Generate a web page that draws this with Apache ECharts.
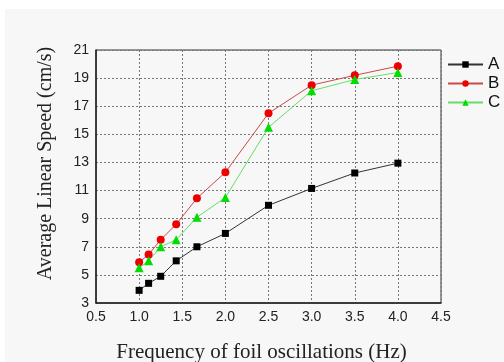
<!DOCTYPE html>
<html>
<head>
<meta charset="utf-8">
<script src="https://cdn.jsdelivr.net/npm/echarts@6/dist/echarts.min.js"></script>
<style>
  html, body { margin: 0; padding: 0; background: #fff; }
  #container { width: 504px; height: 362px; }
</style>
</head>
<body>
<div id="container"></div>
<script>
var freq = [1.0, 1.11, 1.25, 1.43, 1.67, 2.0, 2.5, 3.0, 3.5, 4.0]
var seriesA = [3.9, 4.4, 4.9, 6.0, 7.0, 7.95, 9.95, 11.15, 12.25, 12.95]
var seriesB = [5.9, 6.45, 7.5, 8.6, 10.45, 12.3, 16.5, 18.5, 19.2, 19.85]
var seriesC = [5.5, 6.0, 7.0, 7.5, 9.1, 10.5, 15.5, 18.1, 18.9, 19.4]

function pairs(ys) {
  return freq.map(function (x, i) { return [x, ys[i]] })
}

var dom = document.getElementById('container')
var myChart = echarts.init(dom)

var splitStyle = {
  show: true,
  lineStyle: { color: '#777', type: [2, 2], width: 1 }
}

var option = {
  backgroundColor: '#f7f7f7',
  animation: false,
  graphic: [{
    type: 'rect',
    shape: { x: 0, y: 0, width: 504, height: 9 },
    style: { fill: '#fff' },
    silent: true
  }, {
    type: 'rect',
    shape: { x: 0, y: 0, width: 5, height: 362 },
    style: { fill: '#fff' },
    silent: true
  }],
  grid: {
    left: 96,
    right: 63,
    top: 50,
    bottom: 59,
    outerBoundsMode: 'none',
    containLabel: false,
    show: true,
    borderColor: '#333',
    borderWidth: 1,
    backgroundColor: 'transparent'
  },
  legend: {
    orient: 'vertical',
    left: 447,
    top: 56,
    padding: 0,
    itemWidth: 35,
    itemHeight: 8,
    itemGap: 2,
    textStyle: { fontFamily: 'Liberation Sans', fontSize: 17, color: '#111' },
    data: ['A', 'B', 'C']
  },
  xAxis: {
    type: 'value',
    min: 0.5,
    max: 4.5,
    interval: 0.5,
    name: 'Frequency of foil oscillations (Hz)',
    nameLocation: 'middle',
    nameGap: 39,
    nameTextStyle: { fontFamily: 'Liberation Serif', fontSize: 21, color: '#222', padding: [0, 14, 0, 0] },
    axisLine: { show: true, onZero: false, lineStyle: { color: '#222', width: 1.5 } },
    axisTick: { show: false },
    axisLabel: {
      fontFamily: 'Liberation Sans', fontSize: 14, color: '#222', margin: 7,
      formatter: function (v) { return v.toFixed(1) }
    },
    splitLine: splitStyle
  },
  yAxis: {
    type: 'value',
    min: 3,
    max: 21,
    interval: 2,
    name: 'Average Linear Speed (cm/s)',
    nameLocation: 'middle',
    nameGap: 40,
    nameTextStyle: { fontFamily: 'Liberation Serif', fontSize: 20, color: '#222', padding: [0, 0, 0, 26] },
    axisLine: { show: true, onZero: false, lineStyle: { color: '#222', width: 1.5 } },
    axisTick: { show: false },
    axisLabel: { fontFamily: 'Liberation Sans', fontSize: 14, color: '#222', margin: 7 },
    splitLine: splitStyle
  },
  series: [{
    name: 'A',
    type: 'line',
    data: pairs(seriesA),
    symbol: 'rect',
    symbolSize: 7,
    itemStyle: { color: '#000' },
    lineStyle: { color: '#333', width: 1 }
  }, {
    name: 'B',
    type: 'line',
    data: pairs(seriesB),
    symbol: 'circle',
    symbolSize: 8,
    itemStyle: { color: '#ee0000' },
    lineStyle: { color: '#c84a4a', width: 1 }
  }, {
    name: 'C',
    type: 'line',
    data: pairs(seriesC),
    symbol: 'triangle',
    symbolSize: 9,
    itemStyle: { color: '#00dd00' },
    lineStyle: { color: '#66dd66', width: 1 }
  }]
}

myChart.setOption(option)
</script>
</body>
</html>
